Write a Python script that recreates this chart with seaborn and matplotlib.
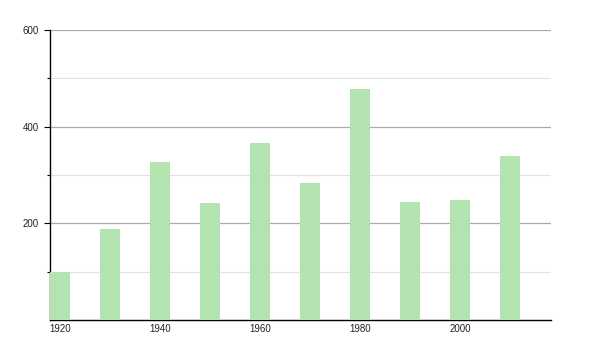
import matplotlib
matplotlib.use("Agg")
import matplotlib.pyplot as plt
import seaborn as sns
import pandas as pd
from matplotlib.ticker import FixedLocator

years = [1920, 1930, 1940, 1950, 1960, 1970, 1980, 1990, 2000, 2010]
values = [99, 189, 326, 243, 367, 284, 477, 245, 249, 339]
x_ticks = [1920, 1940, 1960, 1980, 2000]
y_ticks = [200, 400, 600]
y_minor = [100, 300, 500]

sns.set_style("white")
plt.rcParams['font.family'] = ['Liberation Sans', 'DejaVu Sans']

df = pd.DataFrame({"year": years, "value": values})

fig = plt.figure(figsize=(6, 3.5), dpi=100)
ax = fig.add_axes([50/600, 30/350, 501/600, 290/350])

sns.barplot(data=df, x="year", y="value", native_scale=True, width=0.4,
            color="#b3e4b0", saturation=1, ax=ax, zorder=3, edgecolor="none")

ax.set_xlim(1918, 2018.2)
ax.set_ylim(0, 600)
ax.xaxis.set_major_locator(FixedLocator(x_ticks))
ax.set_xticklabels([str(t) for t in x_ticks])
ax.yaxis.set_major_locator(FixedLocator(y_ticks))
ax.yaxis.set_minor_locator(FixedLocator(y_minor))
ax.set_yticklabels([str(t) for t in y_ticks])

ax.grid(axis="y", which="major", color="#aaaaaa", linewidth=0.9, zorder=0)
ax.grid(axis="y", which="minor", color="#e3e3e3", linewidth=0.9, zorder=0)
ax.set_axisbelow(True)

for s in ["top", "right"]:
    ax.spines[s].set_visible(False)
for s in ["left", "bottom"]:
    ax.spines[s].set_color("black")
    ax.spines[s].set_linewidth(1.0)

ax.tick_params(axis="y", which="major", direction="out", length=4, width=0.8,
               color="black", labelsize=7, pad=4, left=True, labelcolor="#222222")
ax.tick_params(axis="y", which="minor", direction="out", length=2, width=0.8,
               color="black", left=True)
ax.tick_params(axis="x", which="major", length=0, labelsize=7, pad=3,
               labelcolor="#222222")
ax.set_xlabel("")
ax.set_ylabel("")

fig.savefig("out.png", dpi=100)
